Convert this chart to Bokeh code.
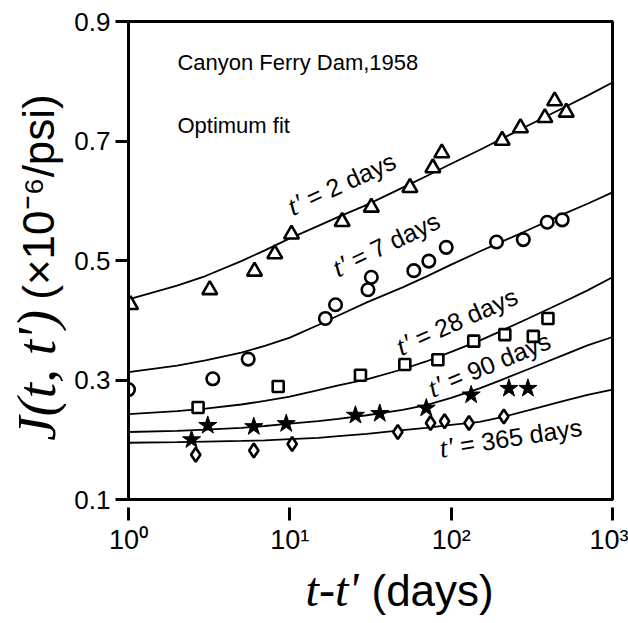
import math
from bokeh.plotting import figure
from bokeh.layouts import column, row
from bokeh.models import Range1d, FixedTicker, Label, CustomJSTickFormatter
from bokeh.core.properties import value
from bokeh.embed import file_html
from bokeh.resources import INLINE

# ---------------- data ----------------
x_ticks = [1, 10, 100, 1000]
x_tick_labels = ["10\u2070", "10\u00b9", "10\u00b2", "10\u00b3"]
y_ticks = [0.1, 0.3, 0.5, 0.7, 0.9]

# measured points
tri_x = [1.03, 3.19, 6.04, 8.07, 10.24, 21.1, 32.0, 55.5, 77.0, 87.5, 207, 269, 381, 438, 517]
tri_y = [0.426, 0.451, 0.482, 0.511, 0.544, 0.565, 0.589, 0.622, 0.655, 0.680, 0.701, 0.722, 0.739, 0.767, 0.748]
circ_x = [1.0, 3.33, 5.52, 16.6, 19.2, 30.5, 32.0, 58.7, 72.7, 93.2, 191, 280, 394, 488]
circ_y = [0.284, 0.302, 0.335, 0.403, 0.426, 0.451, 0.472, 0.483, 0.499, 0.522, 0.531, 0.535, 0.564, 0.568]
sq_x = [2.70, 8.47, 27.4, 51.6, 82.7, 138, 215, 323, 398]
sq_y = [0.254, 0.289, 0.308, 0.326, 0.334, 0.365, 0.376, 0.373, 0.403]
star_x = [2.46, 3.10, 5.98, 9.5, 25.5, 36.1, 70.1, 133, 228, 299]
star_y = [0.200, 0.224, 0.222, 0.227, 0.241, 0.244, 0.253, 0.275, 0.286, 0.286]
dia_x = [2.61, 5.98, 10.34, 46.7, 74.5, 91.0, 129, 212]
dia_y = [0.175, 0.182, 0.193, 0.213, 0.228, 0.231, 0.228, 0.239]

# fitted curves
curve_x = [1, 2, 3, 5, 7, 10, 15, 20, 30, 50, 70, 100, 150, 200, 300, 500, 700, 1000]
fit_2 = [0.435, 0.458, 0.474, 0.499, 0.517, 0.537, 0.558, 0.573, 0.593, 0.622, 0.641, 0.662,
         0.685, 0.702, 0.726, 0.756, 0.776, 0.798]
fit_7 = [0.313, 0.324, 0.333, 0.346, 0.357, 0.371, 0.392, 0.408, 0.430, 0.455, 0.473, 0.493,
         0.515, 0.530, 0.551, 0.578, 0.595, 0.614]
fit_28 = [0.243, 0.248, 0.252, 0.259, 0.265, 0.272, 0.283, 0.291, 0.301, 0.318, 0.331, 0.347,
          0.366, 0.381, 0.403, 0.431, 0.450, 0.472]
fit_90 = [0.213, 0.215, 0.217, 0.220, 0.223, 0.227, 0.231, 0.235, 0.241, 0.250, 0.258, 0.270,
          0.286, 0.299, 0.318, 0.342, 0.358, 0.372]
fit_365 = [0.195, 0.196, 0.197, 0.198, 0.199, 0.201, 0.203, 0.206, 0.210, 0.216, 0.220, 0.225,
           0.230, 0.237, 0.249, 0.265, 0.275, 0.284]

curve_labels = ["= 2 days", "= 7 days", "= 28 days", "= 90 days", "= 365 days"]
curve_label_x = [10.34, 19.7, 48.6, 76.4, 86.0]
curve_label_y = [0.575, 0.472, 0.341, 0.271, 0.171]
curve_label_angle = [24.6, 25.8, 24.0, 22.6, 8.7]

SANS = "Liberation Sans"
SERIF = "Liberation Serif"


def lift(size):
    # empirical correction of the renderer's baseline placement (px)
    return 4 + 0.18 * size


# layout sizes (px)
W, H = 628, 623
LEFT_W = 66          # strip for the y-axis title
MAIN_H = 560         # height of main plot
BOT_H = H - MAIN_H   # strip for the x-axis title

p = figure(width=W - LEFT_W, height=MAIN_H, x_axis_type="log",
           x_range=Range1d(1, 1000), y_range=Range1d(0.1, 0.9),
           output_backend="svg", toolbar_location=None, title_location=None,
           min_border_left=128 - LEFT_W, min_border_right=16, min_border_top=21,
           min_border_bottom=MAIN_H - 499)
p.background_fill_color = "white"
p.border_fill_color = "white"
p.outline_line_color = "black"
p.outline_line_width = 3
p.grid.visible = False

# axes
fmt_code = "const labs = %s; const i = Math.round(Math.log10(tick)); return labs[i];" % (
    "[" + ",".join('"%s"' % s for s in x_tick_labels) + "]")
p.xaxis.ticker = FixedTicker(ticks=x_ticks, minor_ticks=[])
p.xaxis.formatter = CustomJSTickFormatter(code=fmt_code)
p.xaxis.major_tick_in = -8
p.xaxis.major_tick_out = 21
p.xaxis.major_label_standoff = 4
p.xaxis.major_label_text_font = SANS
p.xaxis.major_label_text_font_size = "27px"
p.yaxis.ticker = FixedTicker(ticks=y_ticks, minor_ticks=[])
p.yaxis.formatter = CustomJSTickFormatter(code="return tick.toFixed(1)")
p.yaxis.major_tick_in = 0
p.yaxis.major_tick_out = 13
p.yaxis.major_label_standoff = 5
p.yaxis.major_label_text_font = SANS
p.yaxis.major_label_text_font_size = "26px"
for ax in (p.xaxis, p.yaxis):
    ax.axis_line_width = 3
    ax.axis_line_color = "black"
    ax.major_tick_line_width = 3
    ax.major_tick_line_color = "black"
    ax.minor_tick_line_color = None
    ax.major_label_text_color = "black"

# curves
for fy_vals in (fit_2, fit_7, fit_28, fit_90, fit_365):
    p.line(curve_x, fy_vals, line_color="black", line_width=1.8)

# markers
mk = dict(line_color="black", line_width=2.6, fill_color="white")
p.scatter(tri_x, tri_y, marker="triangle", size=15, **mk)
p.scatter(circ_x, circ_y, marker="circle", size=12.5, **mk)
p.scatter(sq_x, sq_y, marker="square", size=11, **mk)
p.scatter(dia_x, dia_y, marker="diamond", size=14, **mk)
p.scatter(star_x, star_y, marker="star", size=19, line_color="black", line_width=1, fill_color="black")

# annotations in the plot
for txt, yy in (("Canyon Ferry Dam,1958", 0.818), ("Optimum fit", 0.713)):
    p.add_layout(Label(x=2.01, y=yy, y_offset=lift(22), text=txt, text_font=SANS,
                       text_font_size="22px", text_baseline="alphabetic", text_color="black"))

# curve labels: italic t' (right-aligned at a junction) + "= N days" (left-aligned after a gap)
junction, gap = 14, 7
for lx, ly, ang, txt in zip(curve_label_x, curve_label_y, curve_label_angle, curve_labels):
    a = math.radians(ang)
    c, s = math.cos(a), math.sin(a)
    up = lift(26)
    p.add_layout(Label(x=lx, y=ly, text="t'", angle=a, text_align="right",
                       x_offset=junction * c - up * s, y_offset=junction * s + up * c,
                       text_font=SERIF, text_font_style="italic", text_font_size="28px",
                       text_baseline="alphabetic", text_color="black"))
    p.add_layout(Label(x=lx, y=ly, text=txt, angle=a, text_align="left",
                       x_offset=(junction + gap) * c - up * s, y_offset=(junction + gap) * s + up * c,
                       text_font=SANS, text_font_size="25px",
                       text_baseline="alphabetic", text_color="black"))

# ---------------- y-axis title strip ----------------
fyl = figure(width=LEFT_W, height=MAIN_H, x_range=Range1d(0, LEFT_W), y_range=Range1d(0, MAIN_H),
             output_backend="svg", toolbar_location=None, title_location=None, min_border=0,
             x_axis_location=None, y_axis_location=None)
fyl.outline_line_color = None
fyl.grid.visible = False
fyl.background_fill_color = "white"
fyl.border_fill_color = "white"
yj = MAIN_H - 338     # junction between the two parts (measured from bottom)
fyl.text(x=[50 - lift(55)], y=[yj], text=["J(t, t')"], angle=math.pi / 2, text_align="right",
         text_font=value(SERIF), text_font_style="italic", text_font_size=value("55px"),
         text_baseline="alphabetic", text_color="black")
fyl.text(x=[50 - lift(44)], y=[yj + 12], text=["(\u00d710\u207b\u2076/psi)"], angle=math.pi / 2,
         text_align="left", text_font=value(SANS), text_font_size=value("44px"),
         text_baseline="alphabetic", text_color="black")

# ---------------- x-axis title strip ----------------
fxl = figure(width=W, height=BOT_H, x_range=Range1d(0, W), y_range=Range1d(0, BOT_H),
             output_backend="svg", toolbar_location=None, title_location=None, min_border=0,
             x_axis_location=None, y_axis_location=None)
fxl.outline_line_color = None
fxl.grid.visible = False
fxl.background_fill_color = "white"
fxl.border_fill_color = "white"
xb = BOT_H - (602 - MAIN_H)
fxl.text(x=[358], y=[xb + lift(48)], text=["t-t'"], text_align="right", text_font=value(SERIF),
         text_font_style="italic", text_font_size=value("48px"), text_baseline="alphabetic",
         text_color="black")
fxl.text(x=[371], y=[xb + lift(44)], text=["(days)"], text_align="left", text_font=value(SANS),
         text_font_size=value("44px"), text_baseline="alphabetic", text_color="black")

layout = column(row(fyl, p, spacing=0), fxl, spacing=0)
open("out.html", "w").write(file_html(layout, INLINE))
